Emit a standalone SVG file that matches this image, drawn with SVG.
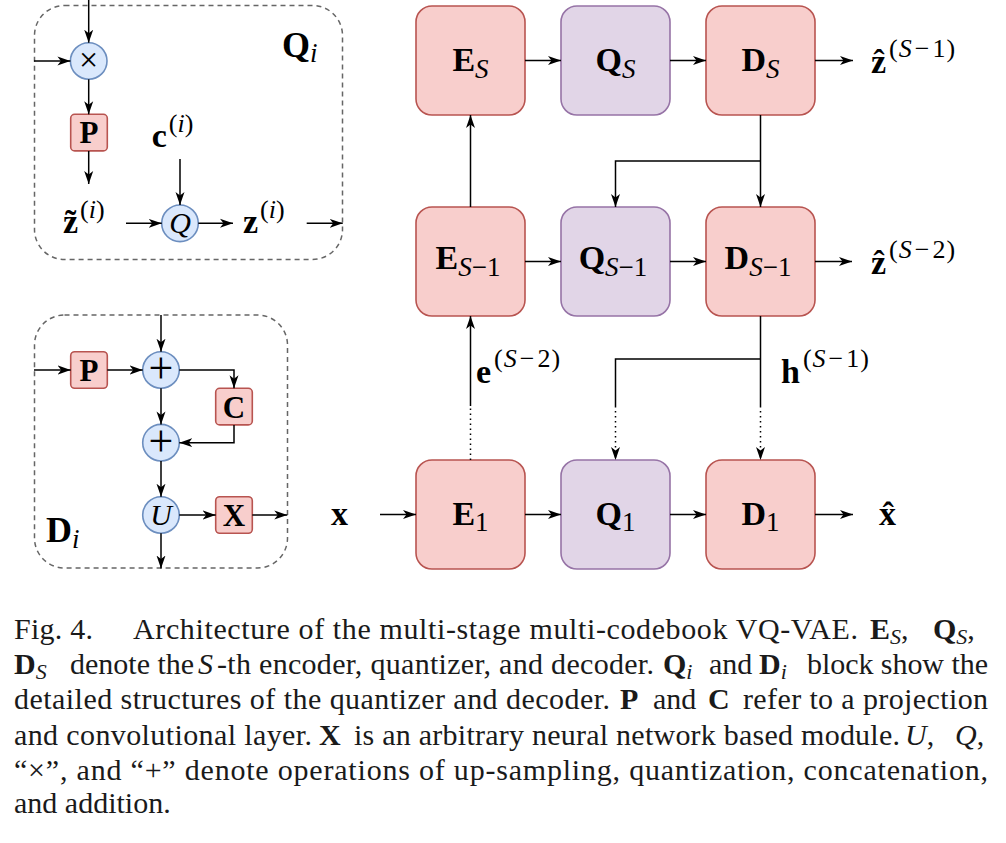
<svg xmlns="http://www.w3.org/2000/svg" width="1006" height="843" viewBox="0 0 1006 843">
<style>
text{font-family:"Liberation Serif","DejaVu Serif",serif;fill:#000}
.b{font-weight:bold}
.it{font-style:italic}
.n{font-weight:normal}
.red{fill:#f8cecc;stroke:#b85450;stroke-width:1.6}
.pur{fill:#e1d5e7;stroke:#9673a6;stroke-width:1.6}
.cir{fill:#dae8fc;stroke:#6c8ebf;stroke-width:1.6}
.dash{fill:none;stroke:#666;stroke-width:1.5;stroke-dasharray:5 4}
.c line,.c path{fill:none;stroke:#000;stroke-width:1.5}
.c .dot{stroke-dasharray:1.5 3.5}
.lbl{font-size:34px}
.sub{font-size:27px;font-weight:normal}
.sup{font-size:26px;font-weight:normal}
.cap{font-size:30px;fill:#1a1a1a}
</style>
<defs>
<marker id="arr" markerWidth="14" markerHeight="10" refX="13" refY="5" orient="auto" markerUnits="userSpaceOnUse">
<path d="M0,0.5 L13,5 L0,9.5 L3.5,5 z" fill="#000" stroke="none"/>
</marker>
</defs>

<!-- Qi detail block -->
<g id="Qi">
<rect class="dash" x="34.5" y="5.5" width="308" height="254" rx="30"/>
<text x="282" y="57" class="b" font-size="36">Q<tspan class="it sub" dy="5">i</tspan></text>
</g>
<g id="Qi-concat"><circle class="cir" cx="88.7" cy="61" r="18.3"/><text x="88.7" y="71" text-anchor="middle" font-size="34">×</text></g>
<g id="Qi-P"><rect class="red" x="70.7" y="114.3" width="36.6" height="36.6" rx="4"/><text x="89" y="143" text-anchor="middle" class="b" font-size="31">P</text></g>
<g id="Qi-Q"><circle class="cir" cx="180" cy="223.3" r="18.3"/><text x="180" y="232.5" text-anchor="middle" class="it" font-size="30">Q</text></g>
<g id="Qi-labels">
<text x="63" y="233" class="b" font-size="34">z̃<tspan class="sup" dx="2" dy="-15">(</tspan><tspan class="sup it">i</tspan><tspan class="sup">)</tspan></text>
<text x="151.7" y="146.7" class="b" font-size="34">c<tspan class="sup" dx="2" dy="-15">(</tspan><tspan class="sup it">i</tspan><tspan class="sup">)</tspan></text>
<text x="243" y="233" class="b" font-size="34">z<tspan class="sup" dx="2" dy="-15">(</tspan><tspan class="sup it">i</tspan><tspan class="sup">)</tspan></text>
</g>

<!-- Di detail block -->
<g id="Di">
<rect class="dash" x="34.5" y="315" width="253" height="253" rx="30"/>
<text x="46" y="541.7" class="b" font-size="36">D<tspan class="it sub" dy="6">i</tspan></text>
</g>
<g id="Di-P"><rect class="red" x="70.7" y="351.7" width="36.6" height="36.6" rx="4"/><text x="89" y="380.5" text-anchor="middle" class="b" font-size="31">P</text></g>
<g id="Di-add1"><circle class="cir" cx="161" cy="370" r="18.3"/><text x="161" y="383" text-anchor="middle" font-size="44">+</text></g>
<g id="Di-C"><rect class="red" x="215.7" y="388.3" width="36.6" height="36.6" rx="4"/><text x="234" y="417.5" text-anchor="middle" class="b" font-size="31">C</text></g>
<g id="Di-add2"><circle class="cir" cx="161" cy="442.7" r="18.3"/><text x="161" y="455.7" text-anchor="middle" font-size="44">+</text></g>
<g id="Di-U"><circle class="cir" cx="161" cy="515" r="18.3"/><text x="161" y="525" text-anchor="middle" class="it" font-size="30">U</text></g>
<g id="Di-X"><rect class="red" x="215.7" y="496.7" width="36.6" height="36.6" rx="4"/><text x="234" y="525.5" text-anchor="middle" class="b" font-size="31">X</text></g>

<!-- Main grid nodes -->
<g id="E_S"><rect class="red" x="416" y="6" width="109" height="109" rx="16"/><text x="470.5" y="71" text-anchor="middle" class="b lbl">E<tspan class="it sub" dy="7">S</tspan></text></g>
<g id="Q_S"><rect class="pur" x="561" y="6" width="109" height="109" rx="16"/><text x="615.5" y="71" text-anchor="middle" class="b lbl">Q<tspan class="it sub" dy="7">S</tspan></text></g>
<g id="D_S"><rect class="red" x="706" y="6" width="109" height="109" rx="16"/><text x="760.5" y="71" text-anchor="middle" class="b lbl">D<tspan class="it sub" dy="7">S</tspan></text></g>

<g id="E_S-1"><rect class="red" x="416" y="207" width="109" height="109" rx="16"/><text x="468" y="268.5" text-anchor="middle" class="b lbl">E<tspan class="it sub" dy="7">S</tspan><tspan class="sub">−1</tspan></text></g>
<g id="Q_S-1"><rect class="pur" x="561" y="207" width="109" height="109" rx="16"/><text x="613" y="268.5" text-anchor="middle" class="b lbl">Q<tspan class="it sub" dy="7">S</tspan><tspan class="sub">−1</tspan></text></g>
<g id="D_S-1"><rect class="red" x="706" y="207" width="109" height="109" rx="16"/><text x="758" y="268.5" text-anchor="middle" class="b lbl">D<tspan class="it sub" dy="7">S</tspan><tspan class="sub">−1</tspan></text></g>

<g id="E_1"><rect class="red" x="416" y="460" width="109" height="109" rx="16"/><text x="470.5" y="525" text-anchor="middle" class="b lbl">E<tspan class="sub" dy="6">1</tspan></text></g>
<g id="Q_1"><rect class="pur" x="561" y="460" width="109" height="109" rx="16"/><text x="615.5" y="525" text-anchor="middle" class="b lbl">Q<tspan class="sub" dy="6">1</tspan></text></g>
<g id="D_1"><rect class="red" x="706" y="460" width="109" height="109" rx="16"/><text x="760.5" y="525" text-anchor="middle" class="b lbl">D<tspan class="sub" dy="6">1</tspan></text></g>

<!-- outer labels -->
<g id="labels">
<text x="871" y="73" class="b lbl">ẑ<tspan class="sup" dx="3" dy="-16">(</tspan><tspan class="sup it" dx="1">S</tspan><tspan class="sup" dx="3">−</tspan><tspan class="sup" dx="3">1</tspan><tspan class="sup" dx="1">)</tspan></text>
<text x="871" y="274" class="b lbl">ẑ<tspan class="sup" dx="3" dy="-16">(</tspan><tspan class="sup it" dx="1">S</tspan><tspan class="sup" dx="3">−</tspan><tspan class="sup" dx="3">2</tspan><tspan class="sup" dx="1">)</tspan></text>
<text x="476" y="383" class="b lbl">e<tspan class="sup" dx="3" dy="-16">(</tspan><tspan class="sup it" dx="1">S</tspan><tspan class="sup" dx="3">−</tspan><tspan class="sup" dx="3">2</tspan><tspan class="sup" dx="1">)</tspan></text>
<text x="781" y="383" class="b lbl">h<tspan class="sup" dx="3" dy="-16">(</tspan><tspan class="sup it" dx="1">S</tspan><tspan class="sup" dx="3">−</tspan><tspan class="sup" dx="3">1</tspan><tspan class="sup" dx="1">)</tspan></text>
<text x="331" y="525" class="b lbl">x</text>
<text x="879" y="525" class="b lbl">x̂</text>
</g>

<!-- connectors -->
<g id="connectors" class="c">
<!-- Qi -->
<line x1="88.7" y1="0" x2="88.7" y2="42.7" marker-end="url(#arr)"/>
<line x1="34" y1="61" x2="70.4" y2="61" marker-end="url(#arr)"/>
<line x1="88.7" y1="79.3" x2="88.7" y2="114.3" marker-end="url(#arr)"/>
<line x1="88.7" y1="151" x2="88.7" y2="184" marker-end="url(#arr)"/>
<line x1="126" y1="223.3" x2="161.7" y2="223.3" marker-end="url(#arr)"/>
<line x1="180" y1="159" x2="180" y2="205" marker-end="url(#arr)"/>
<line x1="198.3" y1="223.3" x2="233" y2="223.3" marker-end="url(#arr)"/>
<line x1="306.7" y1="223.3" x2="342.7" y2="223.3" marker-end="url(#arr)"/>
<!-- Di -->
<line x1="161" y1="315" x2="161" y2="351.7" marker-end="url(#arr)"/>
<line x1="34" y1="370" x2="70.7" y2="370" marker-end="url(#arr)"/>
<line x1="107.3" y1="370" x2="142.7" y2="370" marker-end="url(#arr)"/>
<path d="M179.3,370 H234 V388.3" marker-end="url(#arr)"/>
<line x1="161" y1="388.3" x2="161" y2="424.4" marker-end="url(#arr)"/>
<path d="M234,424.9 V442.7 H179.3" marker-end="url(#arr)"/>
<line x1="161" y1="461" x2="161" y2="496.7" marker-end="url(#arr)"/>
<line x1="179.3" y1="515" x2="215.7" y2="515" marker-end="url(#arr)"/>
<line x1="252.3" y1="515" x2="287.3" y2="515" marker-end="url(#arr)"/>
<line x1="161" y1="533.3" x2="161" y2="568.5" marker-end="url(#arr)"/>
<!-- main row 1 -->
<line x1="525" y1="60.5" x2="561" y2="60.5" marker-end="url(#arr)"/>
<line x1="670" y1="60.5" x2="706" y2="60.5" marker-end="url(#arr)"/>
<line x1="815" y1="60.5" x2="853" y2="60.5" marker-end="url(#arr)"/>
<!-- row 2 -->
<line x1="525" y1="261.5" x2="561" y2="261.5" marker-end="url(#arr)"/>
<line x1="670" y1="261.5" x2="706" y2="261.5" marker-end="url(#arr)"/>
<line x1="815" y1="261.5" x2="852" y2="261.5" marker-end="url(#arr)"/>
<!-- row 3 -->
<line x1="380" y1="514.5" x2="416" y2="514.5" marker-end="url(#arr)"/>
<line x1="525" y1="514.5" x2="561" y2="514.5" marker-end="url(#arr)"/>
<line x1="670" y1="514.5" x2="706" y2="514.5" marker-end="url(#arr)"/>
<line x1="815" y1="514.5" x2="853" y2="514.5" marker-end="url(#arr)"/>
<!-- vertical -->
<line x1="470.5" y1="207" x2="470.5" y2="115" marker-end="url(#arr)"/>
<line x1="760.5" y1="115" x2="760.5" y2="207" marker-end="url(#arr)"/>
<path d="M760.5,161 H615.5 V207" marker-end="url(#arr)"/>
<line class="dot" x1="470.5" y1="460" x2="470.5" y2="406"/>
<line x1="470.5" y1="406" x2="470.5" y2="316" marker-end="url(#arr)"/>
<line x1="760.5" y1="316" x2="760.5" y2="406"/>
<path d="M760.5,359 H615.5 V406"/>
<line class="dot" x1="760.5" y1="406" x2="760.5" y2="460" marker-end="url(#arr)"/>
<line class="dot" x1="615.5" y1="406" x2="615.5" y2="460" marker-end="url(#arr)"/>
</g>

<!-- caption -->
<g id="caption" class="cap">
<text class="cap" x="14" y="639" textLength="79" lengthAdjust="spacing">Fig. 4.</text>
<text class="cap" x="133" y="639" textLength="725" lengthAdjust="spacing">Architecture of the multi-stage multi-codebook VQ-VAE.</text>
<text class="cap" x="870" y="639"><tspan class="b">E</tspan><tspan class="it" font-size="22" dy="5">S</tspan><tspan dy="-5">,</tspan><tspan class="b" x="933">Q</tspan><tspan class="it" font-size="22" dy="5">S</tspan><tspan dy="-5">,</tspan></text>

<text class="cap" x="14" y="674"><tspan class="b">D</tspan><tspan class="it" font-size="22" dy="5">S</tspan></text>
<text class="cap" x="70" y="674">denote the</text>
<text class="cap it" x="198" y="674">S</text>
<text class="cap" x="217" y="674" textLength="437" lengthAdjust="spacing">-th encoder, quantizer, and decoder.</text>
<text class="cap" x="663" y="674"><tspan class="b">Q</tspan><tspan class="it" font-size="22" dy="5">i</tspan></text>
<text class="cap" x="709" y="674">and</text>
<text class="cap" x="759" y="674"><tspan class="b">D</tspan><tspan class="it" font-size="22" dy="5">i</tspan></text>
<text class="cap" x="807" y="674" textLength="181" lengthAdjust="spacing">block show the</text>

<text class="cap" x="14" y="709" textLength="596" lengthAdjust="spacing">detailed structures of the quantizer and decoder.</text>
<text class="cap b" x="620" y="709">P</text>
<text class="cap" x="653" y="709">and</text>
<text class="cap b" x="708" y="709">C</text>
<text class="cap" x="743" y="709" textLength="245" lengthAdjust="spacing">refer to a projection</text>

<text class="cap" x="14" y="745" textLength="298" lengthAdjust="spacing">and convolutional layer.</text>
<text class="cap b" x="319" y="745">X</text>
<text class="cap" x="354" y="745" textLength="546" lengthAdjust="spacing">is an arbitrary neural network based module.</text>
<text class="cap" x="905" y="745"><tspan class="it">U</tspan><tspan>,</tspan><tspan class="it" x="955">Q</tspan><tspan>,</tspan></text>

<text class="cap" x="14" y="780" textLength="974" lengthAdjust="spacing">“×”, and “+” denote operations of up-sampling, quantization, concatenation,</text>
<text class="cap" x="14" y="813">and addition.</text>
</g>
</svg>
